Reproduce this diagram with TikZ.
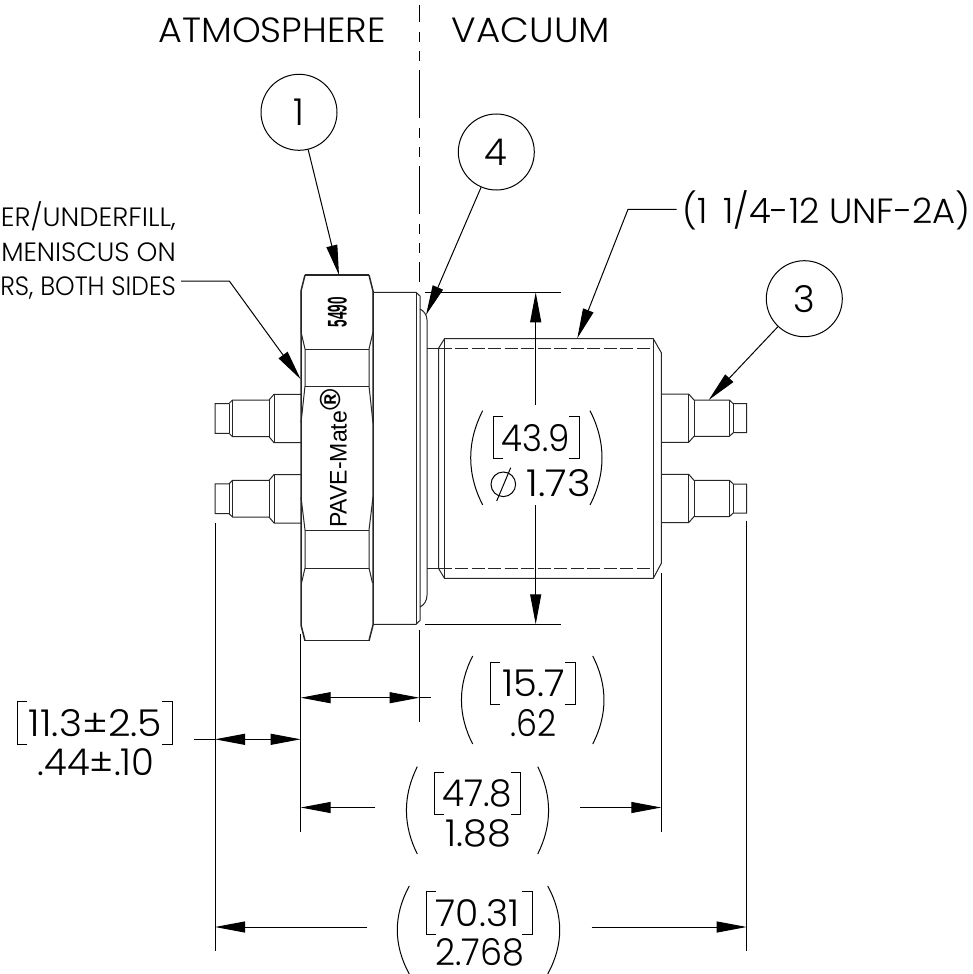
\documentclass[tikz,border=0pt]{standalone}
\usepackage{fontspec}
\setmainfont{Poppins}[UprightFont=* Light]
\newfontfamily\arialf{Liberation Sans}
\usetikzlibrary{arrows.meta}
\tikzset{
  part/.style={line width=1pt,black!85},
  heavy/.style={line width=1.5pt,black!85},
  thin line/.style={line width=1pt,black},
  arr/.style={line width=1pt,black,-{Triangle[length=30pt,width=11pt]}},
  bubble/.style={circle,draw,line width=1pt,minimum size=76pt,inner sep=0pt,font=\fontsize{37}{37}\selectfont},
  txt/.style={anchor=base,inner sep=0pt,font=\fontsize{35}{35}\selectfont},
  dimtxt/.style={anchor=base,inner sep=0pt,font=\fontsize{37}{37}\selectfont},
  note/.style={anchor=base east,inner sep=0pt,font=\fontsize{26.5}{26.5}\selectfont},
}
\newcommand{\sx}[2]{\scalebox{#1}[1]{#2}}
\newcommand{\bracks}[4]{\draw[thin line] (#1+10,#3) -- (#1,#3) -- (#1,#4) -- (#1+10,#4);
  \draw[thin line] (#2-10,#3) -- (#2,#3) -- (#2,#4) -- (#2-10,#4);}
\newcommand{\dblparen}[5]{\draw[thin line] (#1,#4) .. controls ({#1-#3},{#4+(#5-#4)*0.33}) and ({#1-#3},{#4+(#5-#4)*0.67}) .. (#1,#5);
  \draw[thin line] (#2,#4) .. controls ({#2+#3},{#4+(#5-#4)*0.33}) and ({#2+#3},{#4+(#5-#4)*0.67}) .. (#2,#5);}
\begin{document}
\begin{tikzpicture}[x=1pt,y=-1pt]
\useasboundingbox (0,0) rectangle (973,974);
% centre line
\draw[line width=1.1pt,dash pattern=on 48pt off 10pt on 10pt off 9pt on 10pt off 9pt,dash phase=30.7pt] (419.5,5) -- (419.5,282);
% labels top
\node[txt] (atm) at (272,42.7) {\sx{1.045}{ATMOSPHERE}};
\node[txt] (vac) at (531,42.7) {\sx{1.065}{VACUUM}};
% nut
\draw[heavy] (305,275) -- (369,275);
\draw[heavy] (305,640.7) -- (369,640.7);
\draw[heavy] (305,275) -- (301,291) -- (301,625) -- (305,640.7);
\draw[heavy] (369,275) -- (373,291) -- (373,625) -- (369,640.7);
\draw[part] (301,291) -- (301,332) -- (305,349) -- (305,386) -- (301,423);
\draw[part] (373,291) -- (373,332) -- (369,349) -- (369,386) -- (373,423);
\draw[part] (301,497) -- (305,530) -- (305,568) -- (301.5,583);
\draw[part] (373,497) -- (369,530) -- (369,568) -- (372.5,583);
\draw[part] (305,349) -- (369,349) (305,386) -- (369,386) (305,530) -- (369,530) (305,568) -- (369,568);
% flange
\draw[part] (373,292.3) -- (416,292.3) -- (420,296) -- (420,620.5) -- (416,624.3) -- (373,624.3);
\draw[part] (416,292.3) -- (416,624.3);
\draw[part] (420,309) .. controls (424,311) and (427,315) .. (427,320) -- (427,595) .. controls (427,601) and (424,605) .. (420,607);
% neck
\draw[part] (427,348) -- (438.7,348) (427,568.7) -- (438.7,568.7);
% body
\draw[part] (438.7,348) -- (444.5,338.7) -- (653.3,338.7) -- (661.3,352.7) -- (661.3,563.3) -- (653.3,578.3) -- (444.5,578.3) -- (438.7,568.7) -- cycle;
\draw[part] (444.5,338.7) -- (444.5,578.3) (653.3,338.7) -- (653.3,578.3);
\draw[part,dash pattern=on 13pt off 3.5pt] (438.7,348) -- (653.3,348);
\draw[part,dash pattern=on 13pt off 3.5pt] (438.7,568.7) -- (653.3,568.7);
% contacts
\foreach \dy in {0,80.3}{
\begin{scope}[shift={(0,\dy)}]
 \draw[part] (661.3,394) -- (688.7,394) -- (694,400) -- (729.3,400) -- (733.3,403.7) -- (746.7,403.7) -- (746.7,432.7) -- (733.3,432.7) -- (729.3,436.3) -- (694,436.3) -- (688.7,442.3) -- (661.3,442.3);
 \draw[part] (688.7,394) -- (688.7,442.3) (694,400) -- (694,436.3) (729.3,400) -- (729.3,436.3) (733.3,403.7) -- (733.3,432.7);
 \draw[part] (301,394.3) -- (274,394.3) -- (269,400) -- (232.5,400) -- (229,403.5) -- (215,403.5) -- (215,433.3) -- (229,433.3) -- (232.5,436.7) -- (269,436.7) -- (274,442.7) -- (301,442.7);
 \draw[part] (274,394.3) -- (274,442.7) (269,400) -- (269,436.7) (232.5,400) -- (232.5,436.7) (229,403.5) -- (229,433.3);
\end{scope}}
% part marking
\node[rotate=90,anchor=base west,inner sep=0pt,font=\arialf\fontsize{24}{24}\selectfont] (pave) at (346.7,528) {\sx{0.96}{PAVE-Mate}};
\node[anchor=center,inner sep=0pt,font=\arialf\bfseries\fontsize{29}{29}\selectfont,rotate=90] (reg) at (330,400) {®};
\node[rotate=90,anchor=base,inner sep=0pt,font=\arialf\bfseries\fontsize{27}{27}\selectfont] (num) at (346.7,312) {\sx{0.5}{5490}};
% bubbles + leaders
\node[bubble] (b1) at (299,112.3) {1};
\node[bubble] (b4) at (496.3,152) {4};
\node[bubble] (b3) at (804.3,298.7) {3};
\coordinate (t1) at (339,275);
\coordinate (t4) at (426,315);
\coordinate (t3) at (708.7,400);
\draw[arr] (b1) -- (t1);
\draw[arr] (b4) -- (t4);
\draw[arr] (b3) -- (t3);
% thread callout
\node[txt,anchor=base west] (thr) at (682,223) {\sx{1.01}{(1\hspace{6pt} 1/4-12 UNF-2A)}};
\coordinate (thrk) at (628,209.3);
\coordinate (thrt) at (577.3,338.3);
\draw[arr] (676.7,209.3) -- (thrk) -- (thrt);
% note
\node[note] (n1) at (176,226.7) {\sx{1.03}{ER/UNDERFILL,}};
\node[note] (n2) at (176,261.5) {MENISCUS ON};
\node[note] (n3) at (176,295.7) {\sx{0.94}{RS, BOTH SIDES}};
\coordinate (nk) at (229.3,281);
\coordinate (nt) at (300.7,379.3);
\draw[arr] (181,281) -- (nk) -- (nt);
% dia dim
\draw[thin line] (425,292.3) -- (561,292.3) (425,624.3) -- (561,624.3);
\coordinate (d1) at (535.7,405); \coordinate (d2) at (535.7,292.3);
\coordinate (d3) at (535.7,505); \coordinate (d4) at (535.7,624.3);
\draw[arr] (d1) -- (d2);
\draw[arr] (d3) -- (d4);
\bracks{493.3}{579}{416}{458.3}
\dblparen{482.7}{590}{16}{410.7}{505}
\node[dimtxt] (t439) at (535.7,451) {\sx{0.92}{43.9}};
\node[dimtxt] (t173) at (558.5,496.7) {\sx{1.09}{1.73}};
\draw[thin line] (503.3,484.3) circle (12.3);
\draw[thin line] (496.7,501) -- (510.7,467.7);
% extension lines
\draw[thin line] (300.7,634) -- (300.7,831.7);
\draw[thin line] (419.5,630) -- (419.5,721.7);
\draw[thin line] (215,522.7) -- (215,951.3);
\draw[thin line] (746.7,520.7) -- (746.7,951.3);
\draw[thin line] (661.3,573.3) -- (661.3,831.7);
% 15.7
\coordinate (a1) at (360,697.7);
\draw[arr] (a1) -- (300.7,697.7);
\draw[arr] (a1) -- (419.5,697.7);
\draw[thin line] (419.5,697.7) -- (430.7,697.7);
\bracks{490}{575.3}{662.3}{704}
\dblparen{472.7}{592.7}{15}{656}{744}
\node[dimtxt] (t157) at (533.8,696) {\sx{1.04}{15.7}};
\node[dimtxt] (t62) at (533.8,736) {\sx{0.9}{.62}};
% 11.3
\coordinate (a2) at (258,739.3);
\draw[arr] (a2) -- (215,739.3);
\draw[arr] (a2) -- (300.7,739.3);
\draw[thin line] (194,739.3) -- (215,739.3);
\bracks{17.3}{172.3}{701.7}{744}
\node[dimtxt] (t113) at (95.5,736) {\sx{1.065}{11.3±2.5}};
\node[dimtxt] (t44) at (96,775) {.44±.10};
% 47.8
\draw[arr] (375,807.5) -- (300.7,807.5);
\draw[arr] (580,807.5) -- (661.3,807.5);
\bracks{434.3}{520.7}{772.3}{814}
\dblparen{417.3}{537.7}{14.5}{766.7}{854}
\node[dimtxt] (t478) at (477.3,806.7) {\sx{0.97}{47.8}};
\node[dimtxt] (t188) at (478.5,846) {\sx{1.03}{1.88}};
% 70.31
\draw[arr] (367,927) -- (215,927);
\draw[arr] (591.5,927) -- (746.7,927);
\bracks{426}{532.3}{891}{934}
\dblparen{409.3}{547.7}{16}{886}{974}
\node[dimtxt] (t703) at (477.5,926) {\sx{1.02}{70.31}};
\node[dimtxt] (t276) at (479.7,965) {\sx{0.945}{2.768}};
\end{tikzpicture}
\end{document}
